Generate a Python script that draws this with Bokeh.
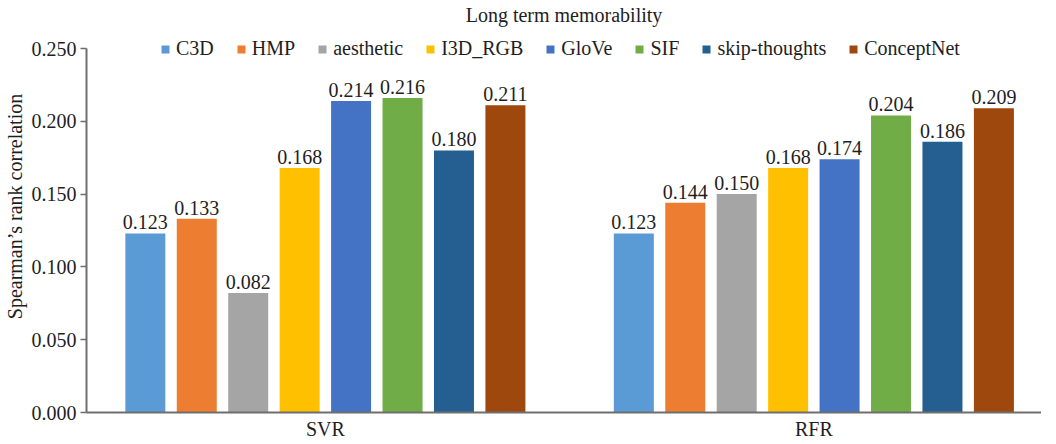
from bokeh.plotting import figure
from bokeh.models import (Range1d, FixedTicker, NumeralTickFormatter, ColumnDataSource,
                          LabelSet, Legend, LegendItem, Label)
from bokeh.core.properties import value
from bokeh.embed import file_html
from bokeh.resources import INLINE

groups = ["SVR", "RFR"]
series = ["C3D", "HMP", "aesthetic", "I3D_RGB", "GloVe", "SIF", "skip-thoughts", "ConceptNet"]
colors = ["#5B9BD5", "#ED7D31", "#A5A5A5", "#FFC000", "#4472C4", "#70AD47", "#255E91", "#9E480E"]
svr_values = [0.123, 0.133, 0.082, 0.168, 0.214, 0.216, 0.180, 0.211]
rfr_values = [0.123, 0.144, 0.150, 0.168, 0.174, 0.204, 0.186, 0.209]
y_ticks = [0.0, 0.05, 0.10, 0.15, 0.20, 0.25]

FONT = "Liberation Serif"
TXT = "#1e1e1e"
AX = "#6e6e6e"
FS = "20px"

FH = 412          # frame height (px)
Y_TOP = 0.25      # top of the value axis
TOP_PX = 48       # space above the 0.250 level inside the frame
y_end = Y_TOP * FH / (FH - TOP_PX)

p = figure(frame_width=955, frame_height=FH, x_range=Range1d(-0.489, 1.466),
           y_range=Range1d(0, y_end), output_backend="svg", toolbar_location=None,
           min_border_left=0, min_border_right=0, min_border_top=0, min_border_bottom=0)

step = 0.1053
bar_w = 0.0819
group_x = list(range(len(groups)))
items = []
lx, ly, lt = [], [], []
for i, name in enumerate(series):
    off = (i - (len(series) - 1) / 2) * step
    vals = [svr_values[i], rfr_values[i]]
    xs = [g + off for g in group_x]
    src = ColumnDataSource(dict(x=xs, top=vals))
    r = p.vbar(x="x", top="top", width=bar_w, source=src, fill_color=colors[i], line_color=None)
    items.append(LegendItem(label=name, renderers=[r]))
    lx += xs
    ly += vals
    lt += [f"{v:.3f}" for v in vals]

lab_src = ColumnDataSource(dict(x=lx, y=ly, t=lt))
p.add_layout(LabelSet(x="x", y="y", text="t", source=lab_src, text_align="center",
                      text_baseline="bottom", y_offset=4, text_font=value(FONT),
                      text_font_size=value(FS), text_color=TXT))

legend = Legend(items=items, orientation="horizontal", location=(74, FH - TOP_PX - 12),
                glyph_width=10, glyph_height=10, label_standoff=6, spacing=22,
                padding=0, margin=0, border_line_color=None, background_fill_alpha=0,
                label_text_font=FONT, label_text_font_size=FS, label_text_color=TXT,
                label_height=20)
p.add_layout(legend)

p.add_layout(Label(x=(-0.489 + 1.466) / 2, y=Y_TOP, y_offset=34, text="Long term memorability",
                   text_align="center", text_baseline="middle", text_font=FONT,
                   text_font_size=FS, text_color=TXT))

p.xgrid.visible = False
p.ygrid.visible = False
p.outline_line_color = None

ya = p.yaxis[0]
ya.bounds = (0, Y_TOP)
ya.ticker = FixedTicker(ticks=y_ticks)
ya.formatter = NumeralTickFormatter(format="0.000")
ya.major_tick_out = 6
ya.major_tick_in = 0
ya.minor_tick_line_color = None
ya.axis_line_color = AX
ya.axis_line_width = 2
ya.major_tick_line_color = AX
ya.major_tick_line_width = 1.5
ya.major_label_text_font = FONT
ya.major_label_text_font_size = FS
ya.major_label_text_color = TXT
ya.major_label_standoff = 4
ya.axis_label = "Spearman\u2019s rank correlation"
ya.axis_label_text_font = FONT
ya.axis_label_text_font_size = FS
ya.axis_label_text_font_style = "normal"
ya.axis_label_text_color = TXT
ya.axis_label_standoff = 3

xa = p.xaxis[0]
xa.ticker = FixedTicker(ticks=group_x)
xa.major_label_overrides = {g: name for g, name in zip(group_x, groups)}
xa.major_tick_line_color = None
xa.major_tick_out = 0
xa.major_tick_in = 0
xa.minor_tick_line_color = None
xa.axis_line_color = AX
xa.axis_line_width = 2
xa.major_label_text_font = FONT
xa.major_label_text_font_size = FS
xa.major_label_text_color = TXT
xa.major_label_standoff = 5

open("out.html", "w").write(file_html(p, INLINE))
